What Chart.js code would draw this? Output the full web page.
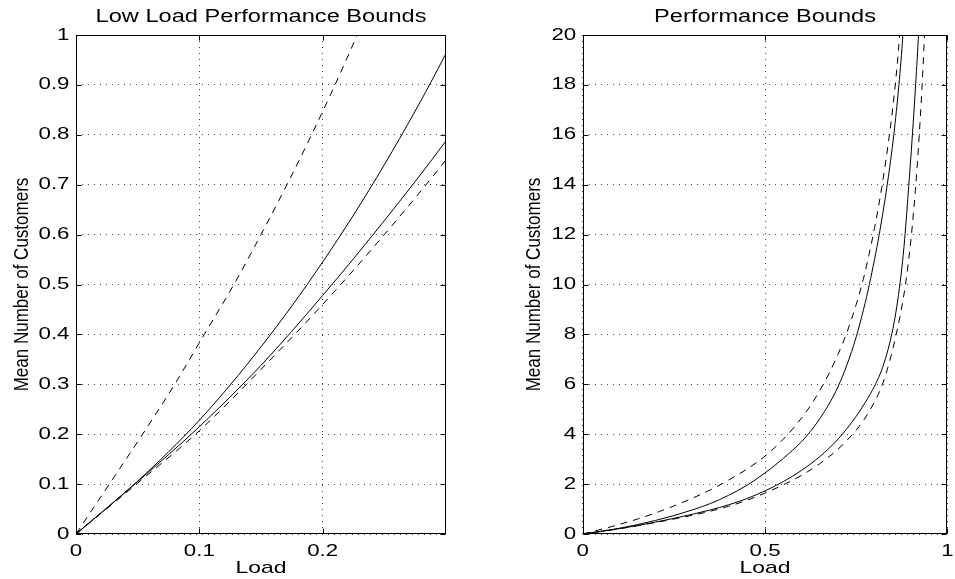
<!DOCTYPE html>
<html><head><meta charset="utf-8">
<script src="https://cdn.jsdelivr.net/npm/chart.js@4.4.1/dist/chart.umd.min.js"></script>
<style>
html,body{margin:0;padding:0;background:#fff;overflow:hidden;width:955px;height:579px;}
#wrapL{position:absolute;left:0;top:0;width:460px;height:579px;}
#wrapR{position:absolute;left:480px;top:0;width:480px;height:579px;}
</style></head><body>
<div id="wrapL"><canvas id="leftChart"></canvas></div>
<div id="wrapR"><canvas id="rightChart"></canvas></div>
<script>
// ---- data (x = load, y = mean number of customers) ----
const loadUpperDashed = [0, 0.027, 0.054, 0.08, 0.104, 0.128, 0.15, 0.171, 0.191, 0.21, 0.228, 0.25, 0.3, 0.35, 0.4, 0.45, 0.5, 0.55, 0.575, 0.6, 0.625, 0.65, 0.675, 0.7, 0.725, 0.75, 0.77, 0.785, 0.8, 0.82, 0.84, 0.857, 0.869, 0.88];
const meanUpperDashed = [0, 0.1, 0.2, 0.3, 0.4, 0.5, 0.6, 0.7, 0.8, 0.9, 1.0, 1.125, 1.43, 1.77, 2.16, 2.6, 3.12, 3.8, 4.2, 4.65, 5.15, 5.75, 6.42, 7.2, 8.1, 9.2, 10.25, 11.2, 12.25, 13.9, 15.9, 18, 20, 22.6];

const loadUpperSolid = [0, 0.05, 0.1, 0.15, 0.2, 0.25, 0.3, 0.35, 0.4, 0.45, 0.5, 0.55, 0.6, 0.625, 0.65, 0.675, 0.7, 0.725, 0.75, 0.77, 0.786, 0.8, 0.813, 0.835, 0.853, 0.867, 0.878, 0.887];
const meanUpperSolid = [0, 0.106, 0.228, 0.375, 0.545, 0.74, 0.963, 1.22, 1.55, 1.95, 2.45, 3.03, 3.7, 4.12, 4.62, 5.2, 5.9, 6.8, 7.9, 9.0, 10, 11, 12, 14, 16, 18, 20, 22.2];

const loadLowerSolid = [0, 0.05, 0.1, 0.15, 0.2, 0.25, 0.3, 0.35, 0.4, 0.45, 0.5, 0.55, 0.6, 0.65, 0.7, 0.75, 0.775, 0.8, 0.815, 0.83, 0.845, 0.856, 0.866, 0.875, 0.883, 0.894, 0.904, 0.913, 0.921, 0.929];
const meanLowerSolid = [0, 0.105, 0.215, 0.338, 0.478, 0.628, 0.788, 0.965, 1.17, 1.42, 1.73, 2.1, 2.55, 3.1, 3.8, 4.72, 5.28, 5.92, 6.4, 7.02, 7.85, 8.65, 9.6, 10.65, 11.85, 13.95, 16, 18.05, 20.1, 22.8];

const loadLowerDashed = [0, 0.05, 0.1, 0.15, 0.2, 0.25, 0.3, 0.35, 0.4, 0.45, 0.5, 0.55, 0.6, 0.65, 0.7, 0.74, 0.77, 0.8, 0.822, 0.842, 0.858, 0.873, 0.885, 0.9, 0.912, 0.921, 0.93, 0.937, 0.945];
const meanLowerDashed = [0, 0.102, 0.207, 0.33, 0.46, 0.6, 0.75, 0.915, 1.11, 1.35, 1.64, 1.97, 2.35, 2.82, 3.4, 4.0, 4.55, 5.3, 6.0, 6.95, 7.9, 8.95, 10, 11.8, 13.75, 15.6, 17.8, 20, 23.3];

// ---- axes / ticks / text ----
const leftXTicks = [0, 0.1, 0.2];
const leftXLabels = ['0', '0.1', '0.2'];
const leftYTicks = [0, 0.1, 0.2, 0.3, 0.4, 0.5, 0.6, 0.7, 0.8, 0.9, 1];
const leftYLabels = ['0', '0.1', '0.2', '0.3', '0.4', '0.5', '0.6', '0.7', '0.8', '0.9', '1'];
const rightXTicks = [0, 0.5, 1];
const rightXLabels = ['0', '0.5', '1'];
const rightYTicks = [0, 2, 4, 6, 8, 10, 12, 14, 16, 18, 20];
const rightYLabels = ['0', '2', '4', '6', '8', '10', '12', '14', '16', '18', '20'];
const leftTitle = 'Low Load Performance Bounds';
const rightTitle = 'Performance Bounds';
const xTitle = 'Load';
const yTitle = 'Mean Number of Customers';

const MAIN_FONT = "'Liberation Sans', Arial, sans-serif";
const TEXT_SX = 1.35;   // horizontal stretch of the reference lettering
const YTITLE_SX = 0.83; // the y label is condensed in the reference

function pts(xs, ys) { return xs.map((x, i) => ({x: x, y: ys[i]})); }

function makeDatasets() {
  const base = {borderColor: '#000', borderWidth: 1, pointRadius: 0, pointHoverRadius: 0, fill: false, cubicInterpolationMode: 'monotone', showLine: true};
  return [
    Object.assign({}, base, {label: 'upper dashed', data: pts(loadUpperDashed, meanUpperDashed), borderDash: [7, 6]}),
    Object.assign({}, base, {label: 'upper solid', data: pts(loadUpperSolid, meanUpperSolid)}),
    Object.assign({}, base, {label: 'lower solid', data: pts(loadLowerSolid, meanLowerSolid)}),
    Object.assign({}, base, {label: 'lower dashed', data: pts(loadLowerDashed, meanLowerDashed), borderDash: [7, 6]})
  ];
}

// stretch text horizontally about its anchor (keeps alignment)
function stretchText(ctx) {
  const orig = ctx.fillText;
  ctx.fillText = function (text, x, y, maxWidth) {
    const sx = (text === yTitle) ? YTITLE_SX : TEXT_SX;
    this.save();
    this.translate(x, y);
    this.scale(sx, 1);
    if (maxWidth === undefined || maxWidth === null) orig.call(this, text, 0, 0);
    else orig.call(this, text, 0, 0, maxWidth / sx);
    this.restore();
  };
}

const framePlugin = {
  id: 'frame',
  afterDatasetsDraw(chart) {
    const ctx = chart.ctx;
    const a = chart.chartArea;
    const xs = chart.scales.x, ys = chart.scales.y;
    const L = Math.round(a.left) + 0.5, R = Math.round(a.right) - 0.5;
    const T = Math.round(a.top) + 0.5, B = Math.round(a.bottom) - 0.5;
    ctx.save();
    ctx.setLineDash([]);
    ctx.strokeStyle = '#000';
    ctx.lineWidth = 1;
    ctx.beginPath();
    xs.ticks.forEach(t => {
      const p = Math.round(xs.getPixelForValue(t.value)) + 0.5;
      ctx.moveTo(p, B); ctx.lineTo(p, B - 5);
      ctx.moveTo(p, T); ctx.lineTo(p, T + 5);
    });
    ys.ticks.forEach(t => {
      const p = Math.round(ys.getPixelForValue(t.value)) + 0.5;
      ctx.moveTo(L, p); ctx.lineTo(L + 5, p);
      ctx.moveTo(R, p); ctx.lineTo(R - 5, p);
    });
    ctx.stroke();
    ctx.strokeRect(L, T, R - L, B - T);
    ctx.restore();
  }
};

function makeChart(id, cfg) {
  const ctx = document.getElementById(id).getContext('2d');
  stretchText(ctx);
  return new Chart(ctx, {
    type: 'line',
    data: {datasets: makeDatasets()},
    plugins: [framePlugin],
    options: {
      responsive: true,
      maintainAspectRatio: false,
      animation: false,
      events: [],
      layout: {padding: {left: 0, right: cfg.padRight, top: 0, bottom: 0}},
      plugins: {
        legend: {display: false},
        tooltip: {enabled: false},
        title: {display: true, text: cfg.title, fullSize: false, color: '#000',
                font: {family: MAIN_FONT, size: 17.5, weight: 'normal', lineHeight: 1.2},
                padding: {top: 6.8, bottom: 7.2}}
      },
      scales: {
        x: {
          type: 'linear', min: cfg.xMin, max: cfg.xMax,
          afterBuildTicks: s => { s.ticks = cfg.xTicks.map(v => ({value: v})); },
          afterFit: s => { s.height = 45; },
          ticks: {color: '#000', padding: 8, maxRotation: 0, autoSkip: false,
                  font: {family: MAIN_FONT, size: 16.5},
                  callback: (v, i) => cfg.xLabels[i]},
          grid: {color: '#444', lineWidth: 1, drawTicks: false},
          border: {display: false, dash: [1, 5]},
          title: {display: true, text: xTitle, color: '#000',
                  font: {family: MAIN_FONT, size: 17, lineHeight: 1.2}, padding: {top: 0, bottom: 0.5}}
        },
        y: {
          type: 'linear', min: cfg.yMin, max: cfg.yMax,
          afterBuildTicks: s => { s.ticks = cfg.yTicks.map(v => ({value: v})); },
          afterFit: s => { s.width = cfg.yWidth; },
          ticks: {color: '#000', padding: 6.5, autoSkip: false,
                  font: {family: MAIN_FONT, size: 16.5},
                  callback: (v, i) => cfg.yLabels[i]},
          grid: {color: '#444', lineWidth: 1, drawTicks: false},
          border: {display: false, dash: [1, 5]},
          title: {display: true, text: yTitle, color: '#000',
                  font: {family: MAIN_FONT, size: 20.5, lineHeight: 1.2}, padding: {top: cfg.yTitlePad, bottom: 0}}
        }
      }
    }
  });
}

makeChart('leftChart', {
  title: leftTitle, padRight: 14, yWidth: 76, yTitlePad: 10,
  xMin: 0, xMax: 0.3, xTicks: leftXTicks, xLabels: leftXLabels,
  yMin: 0, yMax: 1, yTicks: leftYTicks, yLabels: leftYLabels
});
makeChart('rightChart', {
  title: rightTitle, padRight: 7.3, yWidth: 102.7, yTitlePad: 42.5,
  xMin: 0, xMax: 1, xTicks: rightXTicks, xLabels: rightXLabels,
  yMin: 0, yMax: 20, yTicks: rightYTicks, yLabels: rightYLabels
});
</script>
</body></html>
